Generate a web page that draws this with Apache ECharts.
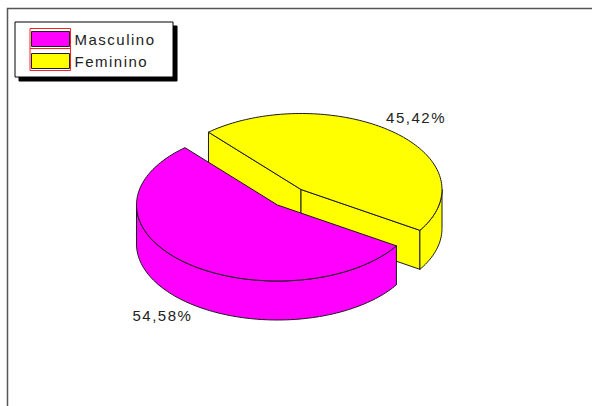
<!DOCTYPE html>
<html>
<head>
<meta charset="utf-8">
<style>
html,body{margin:0;padding:0;background:#fff;}
#c{width:592px;height:406px;}
text{letter-spacing:1.5px;}
</style>
<script src="https://cdn.jsdelivr.net/npm/echarts@6/dist/echarts.min.js"></script>
</head>
<body>
<div id="c"></div>
<script>
var categories = ['Masculino', 'Feminino'];
var shares = [54.58, 45.42];
var colors = ['#ff00ff', '#ffff00'];

var RX = 141, RY = 76, DEPTH = 39, STROKE = '#1a1a1a';
var centers = [[277.5, 205], [301, 189.5]];
var SPLIT_ANGLE = 32.5;        // screen degrees, clockwise from east

var chart = echarts.init(document.getElementById('c'), null, {renderer: 'svg'});

function arcPoints(c, a0, a1, dy) {
  var pts = [], n = Math.max(2, Math.ceil(Math.abs(a1 - a0) / 1.5));
  for (var i = 0; i <= n; i++) {
    var a = (a0 + (a1 - a0) * i / n) * Math.PI / 180;
    pts.push([c[0] + RX * Math.cos(a), c[1] + RY * Math.sin(a) + dy]);
  }
  return pts;
}
function poly(points, fill) {
  return {type: 'polygon', shape: {points: points},
    style: {fill: fill, stroke: STROKE, lineWidth: 1}};
}
function outerWall(c, a0, a1, fill) {
  var lo = Math.max(a0, 0), hi = Math.min(a1, 180);
  if (hi <= lo) return null;
  return poly(arcPoints(c, lo, hi, 0).concat(arcPoints(c, hi, lo, DEPTH)), fill);
}
function cutWall(c, a, fill) {
  var p = arcPoints(c, a, a, 0)[0];
  return poly([c, p, [p[0], p[1] + DEPTH], [c[0], c[1] + DEPTH]], fill);
}
function sliceRender(idx) {
  return function (params, api) {
    var v = api.value(0);
    var sweep = v / 100 * 360;
    var c = centers[idx], fill = colors[idx], a0, a1;
    var kids = [];
    if (idx === 0) { // Masculino runs clockwise from the split
      a0 = SPLIT_ANGLE; a1 = SPLIT_ANGLE + sweep;
      kids.push(outerWall(c, a0, a1, fill));
    } else {         // Feminino runs anticlockwise from the split
      a1 = SPLIT_ANGLE; a0 = SPLIT_ANGLE - sweep;
      kids.push(cutWall(c, a0, fill));
      kids.push(cutWall(c, a1, fill));
      kids.push(outerWall(c, 0, a1, fill));
    }
    kids.push(poly([c].concat(arcPoints(c, a0, a1, 0)), fill));
    var mid = (a0 + a1) / 2 * Math.PI / 180;
    var s = Math.sin(mid);
    kids.push({type: 'text', z2: 10, style: {
      x: c[0] + 1.25 * RX * Math.cos(mid),
      y: c[1] + 1.25 * RY * s + (s > 0 ? DEPTH : 0),
      text: v.toFixed(2).replace('.', ',') + '%',
      fill: '#222', font: '15px "Liberation Sans", Arial, sans-serif',
      align: 'center', verticalAlign: 'middle'
    }});
    return {type: 'group', children: kids.filter(Boolean)};
  };
}

chart.setOption({
  animation: false,
  backgroundColor: '#ffffff',
  legend: {
    left: 15, top: 22, orient: 'vertical', selectedMode: false,
    data: categories, icon: 'rect',
    padding: [9, 31, 8, 16],
    itemWidth: 38, itemHeight: 15, itemGap: 6,
    backgroundColor: '#ffffff', borderColor: '#000', borderWidth: 1,
    shadowColor: '#000', shadowBlur: 0, shadowOffsetX: 4, shadowOffsetY: 4,
    itemStyle: {borderColor: '#222', borderWidth: 1},
    textStyle: {color: '#222', fontSize: 15, fontFamily: '"Liberation Sans", Arial, sans-serif'}
  },
  graphic: [
    {type: 'polyline', silent: true, z: 0,
     shape: {points: [[7.5, 406], [7.5, 8.5], [592, 8.5]]},
     style: {fill: 'none', stroke: '#555', lineWidth: 1.5}},
    {type: 'rect', silent: true, z: 100, shape: {x: 30, y: 28.5, width: 40.5, height: 42},
     style: {fill: 'none', stroke: '#ff2020', lineWidth: 1}},
    {type: 'line', silent: true, z: 100, shape: {x1: 30, y1: 48.5, x2: 70.5, y2: 48.5},
     style: {stroke: '#ff2020', lineWidth: 1}}
  ],
  series: categories.map(function (name, i) {
    return {
      name: name, type: 'custom', coordinateSystem: 'none', silent: true,
      z: i === 0 ? 4 : 3, itemStyle: {color: colors[i]},
      data: [[shares[i]]], renderItem: sliceRender(i)
    };
  })
});
</script>
</body>
</html>
